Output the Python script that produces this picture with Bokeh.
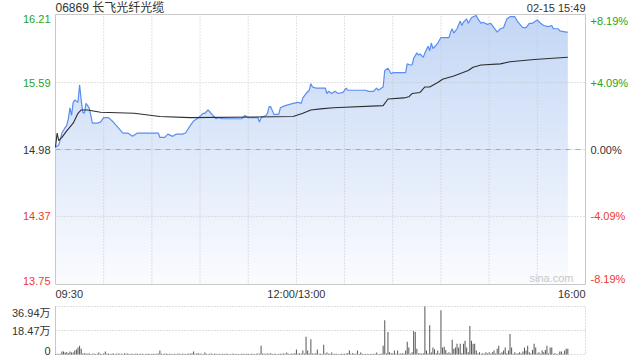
import numpy as np
from bokeh.plotting import figure
from bokeh.models import Range1d, ColumnDataSource
from bokeh.core.properties import value
from bokeh.layouts import column
from bokeh.embed import file_html
from bokeh.resources import INLINE

# ---------------- data ----------------
stock_title = "06869 长飞光纤光缆"
stamp_text = "02-15 15:49"
watermark = "sina.com"
prev_close = 14.98
session_minutes = 330          # 09:30-12:00 + 13:00-16:00
price_ticks = [13.75, 14.37, 14.98, 15.59, 16.21]
pct_labels = ["-8.19%", "-4.09%", "0.00%", "+4.09%", "+8.19%"]
tick_kind = ["down", "down", "flat", "up", "up"]
time_ticks = [0, 150, 330]
time_labels = ["09:30", "12:00/13:00", "16:00"]
grid_minutes = [30, 60, 90, 120, 150, 180, 210, 240, 270, 300]
price_grid = [14.37, 15.59]
vol_ticks = [0, 18.47, 36.94]
vol_labels = ["0", "18.47万", "36.94万"]

# (minute index, price)
price_pts = [
    (0, 15.00), (2, 15.02), (4, 15.13), (6, 15.18), (7, 15.20), (8, 15.26), (9, 15.36),
    (10, 15.29), (11, 15.41), (12, 15.43), (14, 15.41), (15, 15.57), (16, 15.43), (17, 15.32),
    (18, 15.31), (19, 15.40), (21, 15.36), (23, 15.22), (26, 15.22), (28, 15.23), (30, 15.27),
    (33, 15.27), (36, 15.23), (39, 15.18), (42, 15.13), (45, 15.13), (48, 15.10), (51, 15.13),
    (54, 15.13), (64, 15.13), (65, 15.09), (68, 15.09), (70, 15.12), (73, 15.10), (75, 15.12),
    (79, 15.12), (81, 15.13), (84, 15.20), (86, 15.24), (89, 15.27), (92, 15.31), (93, 15.31),
    (95, 15.34), (98, 15.29), (100, 15.26), (101, 15.27), (104, 15.26), (116, 15.26),
    (118, 15.29), (120, 15.27), (126, 15.27), (127, 15.23), (128, 15.27), (131, 15.29),
    (132, 15.31), (133, 15.37), (134, 15.37), (136, 15.30), (139, 15.30), (140, 15.36),
    (143, 15.38), (148, 15.40), (151, 15.41), (153, 15.40), (154, 15.45), (156, 15.49),
    (158, 15.52), (159, 15.58), (160, 15.55), (162, 15.54), (168, 15.54), (169, 15.49),
    (170, 15.51), (172, 15.49), (174, 15.51), (176, 15.49), (179, 15.50), (181, 15.54),
    (182, 15.52), (193, 15.52), (195, 15.51), (198, 15.51), (200, 15.54), (201, 15.52),
    (204, 15.55), (205, 15.70), (207, 15.72), (209, 15.67), (210, 15.68), (218, 15.68),
    (219, 15.76), (221, 15.75), (222, 15.75), (223, 15.81), (225, 15.86), (226, 15.84),
    (227, 15.85), (229, 15.82), (230, 15.86), (232, 15.92), (233, 15.88), (234, 15.95),
    (235, 15.90), (237, 15.93), (238, 15.95), (240, 16.00), (241, 16.00), (245, 16.00),
    (246, 16.05), (247, 16.08), (248, 16.04), (249, 16.06), (250, 16.08), (252, 16.15),
    (253, 16.11), (254, 16.14), (256, 16.17), (257, 16.13), (259, 16.18), (260, 16.19),
    (262, 16.20), (263, 16.17), (265, 16.13), (266, 16.14), (269, 16.12), (271, 16.13),
    (273, 16.09), (275, 16.05), (277, 16.08), (279, 16.09), (281, 16.17), (283, 16.19),
    (286, 16.19), (288, 16.14), (291, 16.09), (293, 16.09), (295, 16.13), (297, 16.13),
    (299, 16.15), (300, 16.16), (302, 16.13), (304, 16.11), (307, 16.10), (309, 16.11),
    (310, 16.08), (313, 16.08), (314, 16.06), (318, 16.05), (319, 16.05),
]

# (minute index, average price)
avg_pts = [
    (0, 15.00), (1, 15.13), (2, 15.06), (4, 15.09), (7, 15.15), (11, 15.22), (14, 15.31),
    (16, 15.34), (20, 15.34), (28, 15.32), (49, 15.31), (65, 15.28), (84, 15.27),
    (148, 15.28), (154, 15.31), (159, 15.34), (165, 15.35), (173, 15.36), (204, 15.38),
    (207, 15.44), (217, 15.45), (220, 15.46), (222, 15.49), (227, 15.50), (230, 15.55),
    (233, 15.55), (238, 15.59), (241, 15.62), (248, 15.65), (257, 15.70), (260, 15.73),
    (265, 15.75), (277, 15.76), (283, 15.78), (298, 15.80), (319, 15.82),
]

# volume per minute (万股), minutes 0..319
volume = [
    0.3, 0.5, 0.4, 0.6, 2.3, 2.3, 1.5, 1.7, 1.0, 2.3, 1.5, 1.5, 3.0, 3.8, 5.3, 6.8, 4.5, 0.8, 1.0, 0.8,
    0.6, 1.0, 0.4, 0.5, 0.8, 0.4, 0.6, 1.5, 0.5, 0.3, 0.8, 2.3, 0.5, 0.8, 0.4, 0.6, 1.0, 0.4, 0.5, 0.8,
    0.5, 0.6, 0.4, 1.0, 0.5, 0.8, 0.3, 0.5, 0.6, 0.4, 0.8, 0.5, 0.4, 0.6, 0.5, 0.3, 0.4, 0.6, 0.5, 0.4,
    0.5, 0.6, 0.4, 0.5, 0.8, 3.0, 0.6, 0.4, 0.5, 0.8, 0.4, 0.6, 0.5, 0.3, 0.6, 0.4, 0.5, 0.8, 0.4, 0.6,
    0.5, 0.4, 0.6, 0.8, 0.5, 1.0, 2.3, 0.6, 0.8, 1.0, 0.5, 0.6, 0.4, 1.5, 0.5, 0.4, 0.6, 0.8, 0.4, 0.5,
    0.6, 0.4, 0.5, 0.3, 0.6, 0.4, 0.5, 0.6, 0.4, 0.3, 0.5, 0.6, 0.4, 0.5, 0.3, 0.4, 0.6, 0.5, 0.4, 0.6,
    0.5, 0.4, 0.6, 0.5, 0.4, 0.6, 0.8, 0.5, 6.8, 0.8, 0.5, 0.6, 0.8, 0.5, 1.0, 0.4, 0.6, 0.5, 0.4, 0.6,
    0.5, 0.6, 0.8, 0.5, 1.5, 0.6, 0.4, 0.8, 0.5, 1.0, 3.8, 0.6, 1.0, 0.5, 3.0, 0.8, 13.6, 3.0, 0.8, 11.8,
    0.8, 0.5, 1.0, 3.8, 0.6, 0.5, 0.4, 7.5, 0.6, 1.5, 0.5, 0.6, 1.5, 0.4, 0.5, 0.6, 0.4, 0.3, 0.5, 0.6,
    0.5, 0.8, 1.0, 3.0, 0.5, 1.0, 0.6, 0.5, 3.0, 0.4, 1.5, 0.6, 0.4, 0.3, 0.5, 0.4, 0.3, 0.6, 0.4, 0.5,
    1.5, 0.4, 0.5, 0.6, 6.8, 26.4, 0.8, 17.3, 1.7, 1.0, 0.8, 3.0, 0.6, 3.0, 0.5, 0.8, 1.0, 0.6, 3.0, 9.8,
    5.3, 0.6, 1.7, 18.1, 17.3, 4.5, 0.8, 1.0, 0.6, 1.0, 36.9, 3.0, 0.8, 22.6, 1.5, 5.3, 4.0, 1.0, 3.0, 0.8,
    34.0, 5.3, 6.0, 3.5, 1.0, 1.7, 0.8, 11.3, 4.5, 5.3, 8.3, 5.3, 8.3, 1.0, 8.3, 10.6, 5.3, 1.7, 21.9, 10.6,
    8.3, 8.3, 3.0, 0.8, 1.7, 0.6, 1.0, 0.5, 1.7, 0.8, 1.7, 0.6, 1.7, 3.0, 0.8, 4.5, 6.8, 0.8, 1.7, 3.0,
    5.3, 0.8, 3.0, 15.8, 5.3, 0.6, 1.7, 0.5, 1.0, 1.7, 0.8, 2.3, 5.3, 3.0, 6.8, 1.7, 0.8, 3.5, 8.3, 5.3,
    0.8, 1.7, 0.6, 3.0, 1.7, 3.5, 6.8, 0.8, 5.3, 5.3, 0.6, 1.0, 0.4, 0.5, 2.3, 2.3, 0.6, 3.0, 4.5, 4.5,
]

price_x = [m for m, _ in price_pts]
price_y = [v for _, v in price_pts]
avg_x = [m for m, _ in avg_pts]
avg_y = [v for _, v in avg_pts]
vol_x = list(range(len(volume)))

# ---------------- layout / styles ----------------
FONT = value("Liberation Sans, Noto Sans CJK SC")
GREEN = "#22a522"
RED = "#ee3a2e"
DARK = "#333333"
GRID = "#c4c4c4"
kind_color = {"up": GREEN, "down": RED, "flat": DARK}

W = 640
H_MAIN, H_VOL = 300, 60
PAD_L, PAD_R = 55, 55           # pixel margins around the chart area
PAD_T, PAD_B = 14, 16
VPAD_T, VPAD_B = 6, 6

ymin, ymax = price_ticks[0], price_ticks[-1]
chart_w = W - PAD_L - PAD_R
mpp = session_minutes / chart_w                       # minutes per pixel
ppp = (ymax - ymin) / (H_MAIN - PAD_T - PAD_B)        # price per pixel
x_lo, x_hi = -PAD_L * mpp, session_minutes + PAD_R * mpp
y_lo, y_hi = ymin - PAD_B * ppp, ymax + PAD_T * ppp

p = figure(width=W, height=H_MAIN, output_backend="svg", toolbar_location=None,
           title=None, x_range=Range1d(x_lo, x_hi), y_range=Range1d(y_lo, y_hi),
           min_border=0)
p.axis.visible = False
p.grid.visible = False
p.outline_line_color = None
p.background_fill_color = "white"
p.border_fill_color = "white"

# gradient fill under the price line
n = 270
top_c = np.array([196.0, 215.0, 246.0])
bot_c = np.array([251.0, 252.0, 255.0])
t = np.linspace(0.0, 1.0, n)[:, None]
rgb = bot_c + (top_c - bot_c) * t
img = np.empty((n, 1), dtype=np.uint32)
view = img.view(dtype=np.uint8).reshape((n, 1, 4))
view[:, :, 0] = rgb[:, 0:1].astype(np.uint8)
view[:, :, 1] = rgb[:, 1:2].astype(np.uint8)
view[:, :, 2] = rgb[:, 2:3].astype(np.uint8)
view[:, :, 3] = 255
p.image_rgba(image=[img], x=0, y=ymin, dw=price_x[-1], dh=ymax - ymin)
p.varea(x=price_x, y1=price_y, y2=[ymax] * len(price_x), fill_color="white")

# grid lines
p.segment(x0=grid_minutes, y0=[ymin] * len(grid_minutes), x1=grid_minutes,
          y1=[ymax] * len(grid_minutes), line_color=GRID, line_dash="1 2", line_width=1)
p.segment(x0=[0] * len(price_grid), y0=price_grid, x1=[session_minutes] * len(price_grid),
          y1=price_grid, line_color=GRID, line_dash="1 2", line_width=1)
p.segment(x0=[0], y0=[prev_close], x1=[session_minutes], y1=[prev_close],
          line_color="#bbbbbb", line_dash="1 2", line_width=1)
p.segment(x0=[0], y0=[prev_close], x1=[session_minutes], y1=[prev_close],
          line_color="#f08a4f", line_dash="5 5", line_width=1, line_alpha=0.85)

# chart frame
p.quad(left=[0], right=[session_minutes], bottom=[ymin], top=[ymax],
       fill_color=None, line_color="#c8c8c8", line_width=1)

# price & average
p.line(price_x, price_y, line_color="#5a8ef0", line_width=1.2)
p.line(avg_x, avg_y, line_color="#2e2e2e", line_width=1.1)

# tick labels (price left, percent right)
kind_base = ["bottom", "middle", "middle", "middle", "top"]
colors = [kind_color[k] for k in tick_kind]
left_src = ColumnDataSource(dict(x=[0] * 5, y=price_ticks,
                                 t=[f"{v:.2f}" for v in price_ticks], c=colors, b=kind_base))
p.text(x="x", y="y", text="t", source=left_src, x_offset=-5, text_align="right",
       text_baseline="b", text_color="c", text_font=FONT, text_font_size="11px")
right_src = ColumnDataSource(dict(x=[session_minutes] * 5, y=price_ticks, t=pct_labels,
                                  c=colors, b=kind_base))
p.text(x="x", y="y", text="t", source=right_src, x_offset=5, text_align="left",
       text_baseline="b", text_color="c", text_font=FONT, text_font_size="11px")

time_src = ColumnDataSource(dict(x=time_ticks, y=[ymin] * 3, t=time_labels,
                                 a=["left", "center", "right"]))
p.text(x="x", y="y", text="t", source=time_src, y_offset=9, text_align="a",
       text_baseline="middle", text_color=DARK, text_font=FONT, text_font_size="11px")

p.text(x=[0], y=[ymax], text=[stock_title], y_offset=-7, text_align="left",
       text_baseline="middle", text_color=DARK, text_font=FONT, text_font_size="12px")
p.text(x=[session_minutes], y=[ymax], text=[stamp_text], y_offset=-7, text_align="right",
       text_baseline="middle", text_color=DARK, text_font=FONT, text_font_size="11px")
p.text(x=[session_minutes], y=[ymin], text=[watermark], x_offset=-12, y_offset=-1,
       text_align="right", text_baseline="bottom", text_color="#c8c8c8", text_font=FONT,
       text_font_size="11px")

# ---------------- volume panel ----------------
vmax = vol_ticks[-1]
vpp = vmax / (H_VOL - VPAD_T - VPAD_B)
v = figure(width=W, height=H_VOL, output_backend="svg", toolbar_location=None, title=None,
           x_range=p.x_range, y_range=Range1d(-VPAD_B * vpp, vmax + VPAD_T * vpp),
           min_border=0)
v.axis.visible = False
v.grid.visible = False
v.outline_line_color = None
v.border_fill_color = "white"
v.background_fill_color = "white"

v.quad(left=[0], right=[session_minutes], bottom=[0], top=[vmax],
       fill_color=None, line_color="#bbbbbb", line_dash="1 2", line_width=1)
v.segment(x0=[0], y0=[vol_ticks[1]], x1=[session_minutes], y1=[vol_ticks[1]],
          line_color="#bbbbbb", line_dash="1 2", line_width=1)
v.segment(x0=[0], y0=[0], x1=[0], y1=[vmax], line_color="#c8c8c8", line_width=1)
v.vbar(x=vol_x, top=volume, width=0.62, bottom=0, fill_color="#555555", line_color=None)

vol_src = ColumnDataSource(dict(x=[0] * 3, y=vol_ticks, t=vol_labels,
                                b=["bottom", "middle", "top"]))
v.text(x="x", y="y", text="t", source=vol_src, x_offset=-5, text_align="right",
       text_baseline="b", text_color=DARK, text_font=FONT, text_font_size="11px")

layout = column(p, v, spacing=0)
open("out.html", "w").write(file_html(layout, INLINE))
